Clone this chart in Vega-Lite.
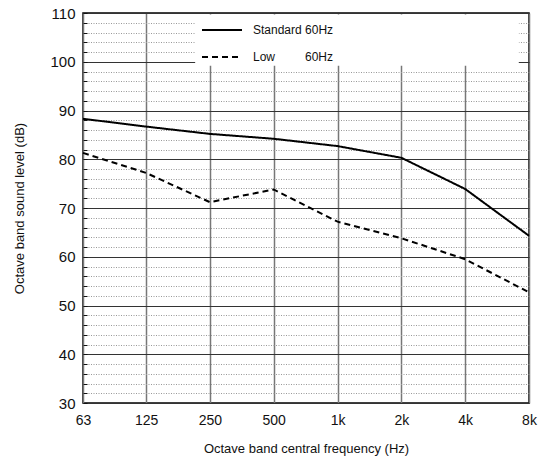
{
  "$schema": "https://vega.github.io/schema/vega-lite/v6.json",
  "width": 446,
  "height": 390,
  "autosize": {"type": "none"},
  "padding": {"left": 83, "top": 13, "right": 12, "bottom": 59},
  "background": "white",
  "config": {
    "view": {"stroke": "black", "strokeWidth": 1.5},
    "font": "Liberation Sans"
  },
  "datasets": {
    "levels": [
      {"freq": 63, "series": "Standard", "level": 88.3},
      {"freq": 125, "series": "Standard", "level": 86.7},
      {"freq": 250, "series": "Standard", "level": 85.2},
      {"freq": 500, "series": "Standard", "level": 84.2},
      {"freq": 1000, "series": "Standard", "level": 82.7},
      {"freq": 2000, "series": "Standard", "level": 80.3},
      {"freq": 4000, "series": "Standard", "level": 73.9},
      {"freq": 8000, "series": "Standard", "level": 64.3},
      {"freq": 63, "series": "Low", "level": 81.3},
      {"freq": 125, "series": "Low", "level": 77.2},
      {"freq": 250, "series": "Low", "level": 71.2},
      {"freq": 500, "series": "Low", "level": 73.8},
      {"freq": 1000, "series": "Low", "level": 67.2},
      {"freq": 2000, "series": "Low", "level": 63.8},
      {"freq": 4000, "series": "Low", "level": 59.5},
      {"freq": 8000, "series": "Low", "level": 52.7}
    ],
    "legendbox": [
      {"freq": 213, "freq2": 7160, "level": 99.2, "level2": 109.7}
    ]
  },
  "encoding": {
    "x": {
      "field": "freq",
      "type": "quantitative",
      "scale": {"type": "log", "base": 2, "domain": [63, 8000], "nice": false},
      "axis": {
        "zindex": 0,
        "title": "Octave band central frequency (Hz)",
        "values": [63, 125, 250, 500, 1000, 2000, 4000, 8000],
        "labelExpr": "datum.value >= 1000 ? (datum.value / 1000) + 'k' : datum.label",
        "labelFontSize": 14,
        "labelColor": "#111",
        "labelPadding": 10,
        "labelFlush": false,
        "labelOverlap": false,
        "ticks": false,
        "domain": false,
        "grid": true,
        "gridColor": "#777",
        "gridWidth": 1.5,
        "titleFontSize": 13,
        "titleFontWeight": "normal",
        "titleColor": "#111",
        "titlePadding": 15
      }
    },
    "y": {
      "field": "level",
      "type": "quantitative",
      "scale": {"domain": [30, 110], "nice": false, "zero": false},
      "axis": {
        "zindex": 0,
        "title": "Octave band sound level (dB)",
        "values": [30, 32, 34, 36, 38, 40, 42, 44, 46, 48, 50, 52, 54, 56, 58, 60, 62, 64, 66, 68, 70, 72, 74, 76, 78, 80, 82, 84, 86, 88, 90, 92, 94, 96, 98, 100, 102, 104, 106, 108, 110],
        "labelExpr": "datum.value % 10 === 0 ? datum.label : ''",
        "labelFontSize": 15,
        "labelColor": "#111",
        "labelPadding": 12,
        "labelFlush": false,
        "labelOverlap": false,
        "ticks": true,
        "tickSize": -4,
        "tickColor": "#111",
        "tickWidth": 1,
        "domain": false,
        "grid": true,
        "gridColor": {"condition": {"test": "datum.value % 10 === 0", "value": "#333"}, "value": "#999"},
        "gridDash": {"condition": {"test": "datum.value % 10 === 0", "value": []}, "value": [1, 1.5]},
        "gridWidth": 1,
        "titleFontSize": 13,
        "titleFontWeight": "normal",
        "titleColor": "#111",
        "titlePadding": 23
      }
    }
  },
  "layer": [
    {
      "data": {"name": "legendbox"},
      "mark": {"type": "rect", "color": "white", "opacity": 1},
      "encoding": {
        "x2": {"field": "freq2"},
        "y2": {"field": "level2"}
      }
    },
    {
      "data": {"name": "levels"},
      "mark": {"type": "line", "color": "black", "strokeWidth": 2},
      "encoding": {
        "strokeDash": {
          "field": "series",
          "type": "nominal",
          "scale": {"domain": ["Standard", "Low"], "range": [[1, 0], [6, 4]]},
          "legend": {
            "orient": "none",
            "legendX": 118,
            "legendY": -4,
            "title": null,
            "symbolType": "stroke",
            "symbolSize": 1600,
            "symbolStrokeWidth": 2,
            "symbolStrokeColor": "black",
            "labelExpr": "datum.label === 'Standard' ? 'Standard 60Hz' : 'Low\u00a0\u00a0\u00a0\u00a0\u00a0\u00a0\u00a0\u00a0 60Hz'",
            "labelFontSize": 12,
            "labelColor": "#111",
            "labelOffset": 10,
            "rowPadding": -8,
            "padding": 0
          }
        }
      }
    }
  ]
}
